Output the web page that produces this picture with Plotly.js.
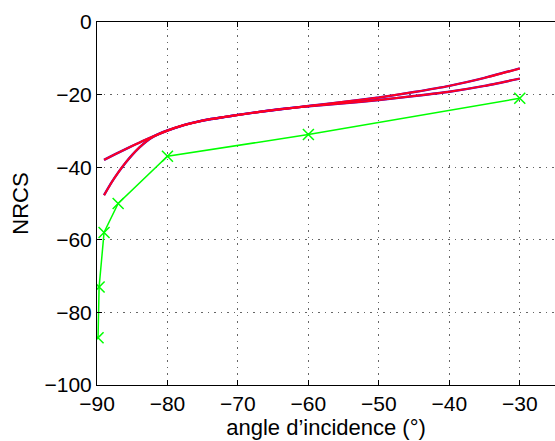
<!DOCTYPE html>
<html>
<head>
<meta charset="utf-8">
<script src="https://cdn.plot.ly/plotly-3.0.1.min.js"></script>
<style>html,body{margin:0;padding:0;background:#fff;}#chart{width:555px;height:441px;}</style>
</head>
<body>
<div id="chart"></div>
<script>
// Model curve 1 (steeper one)
const curve1X = [-89, -88, -87, -86, -85, -84, -83, -82, -81, -80, -78, -76, -74, -72, -70, -66, -62, -60, -55, -50, -45, -40, -35, -30];
const curve1Y = [-47.7, -44.4, -41.5, -38.9, -36.6, -34.6, -32.9, -31.6, -30.6, -29.85, -28.6, -27.6, -26.8, -26.2, -25.6, -24.5, -23.6, -23.15, -22.0, -20.8, -19.3, -17.6, -15.4, -12.8];
// Model curve 2 (flatter one)
const curve2X = [-89, -87.4, -85.5, -83.2, -80, -78, -76, -74, -72, -70, -66, -62, -60, -55, -50, -45, -40, -35, -30];
const curve2Y = [-38.0, -36.4, -34.6, -32.5, -29.95, -28.6, -27.6, -26.8, -26.2, -25.6, -24.5, -23.6, -23.2, -22.4, -21.5, -20.4, -19.2, -17.6, -15.6];
// Measured points
const measX = [-89.85, -89.7, -89, -87, -80, -60, -30];
const measY = [-87, -73, -58, -50, -37, -31, -21];

const xTicks = [-90, -80, -70, -60, -50, -40, -30];
const yTicks = [-100, -80, -60, -40, -20, 0];

const font = {family: 'Liberation Sans, Arial, sans-serif', size: 21, color: '#000'};
const titleFont = {family: 'Liberation Sans, Arial, sans-serif', size: 22, color: '#000'};

const traces = [
  {x: curve1X, y: curve1Y, mode: 'lines', line: {color: '#4a00d0', width: 2.4, shape: 'spline', smoothing: 0.5}},
  {x: curve2X, y: curve2Y, mode: 'lines', line: {color: '#4a00d0', width: 2.4, shape: 'spline', smoothing: 0.5}},
  {x: curve1X, y: curve1Y, mode: 'lines', line: {color: '#ff0020', width: 2.0, shape: 'spline', smoothing: 0.5}},
  {x: curve2X, y: curve2Y, mode: 'lines', line: {color: '#ff0020', width: 2.0, shape: 'spline', smoothing: 0.5}},
  {x: measX, y: measY, mode: 'lines+markers', line: {color: '#00ff00', width: 1.5},
   marker: {symbol: 'x-thin', size: 11, line: {color: '#00ff00', width: 1.5}}}
];

const axisCommon = {
  showline: true, linecolor: '#000', linewidth: 1,
  ticks: 'inside', ticklen: 5, tickcolor: '#000', tickwidth: 1,
  showgrid: true, gridcolor: '#666', griddash: '1.5px,5px', gridwidth: 1,
  zeroline: false, tickfont: font
};

const layout = {
  width: 555, height: 441,
  margin: {l: 97, r: 0, t: 22, b: 56},
  paper_bgcolor: '#fff', plot_bgcolor: '#fff',
  showlegend: false,
  font: font,
  xaxis: Object.assign({}, axisCommon, {
    range: [-90, -25], tickvals: xTicks, mirror: 'ticks',
    title: {text: 'angle d’incidence (°)', font: titleFont, standoff: 1}
  }),
  yaxis: Object.assign({}, axisCommon, {
    range: [-100, 0], tickvals: yTicks, mirror: false,
    title: {text: 'NRCS', font: titleFont, standoff: 9}
  })
};

Plotly.newPlot('chart', traces, layout, {displayModeBar: false, staticPlot: true});
</script>
</body>
</html>
